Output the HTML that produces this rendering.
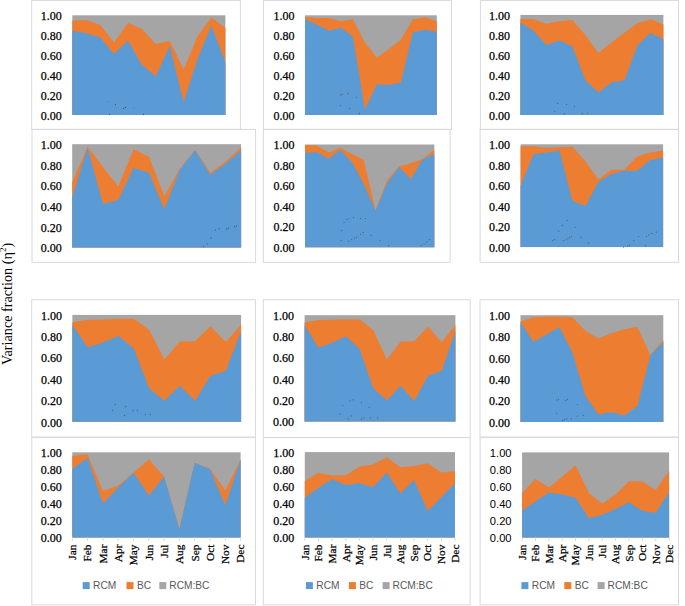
<!DOCTYPE html>
<html><head><meta charset="utf-8"><style>
html,body{margin:0;padding:0;background:#fff;width:685px;height:606px;overflow:hidden;}
svg{display:block;}
.ys{font-family:'Liberation Serif', serif;font-size:12px;fill:#000;stroke:#000;stroke-width:0.25px;}
.yss{font-family:'Liberation Sans', sans-serif;font-size:11.2px;fill:#000;}
.ms{font-family:'Liberation Serif', serif;font-size:11.3px;fill:#000;stroke:#000;stroke-width:0.25px;}
.lg{font-family:'Liberation Sans', sans-serif;font-size:10.2px;fill:#595959;}
.tt{font-family:'Liberation Serif', serif;font-size:14.2px;fill:#000;}
</style></head><body>
<svg width="685" height="606" viewBox="0 0 685 606">
<rect x="0" y="0" width="685" height="606" fill="#fff"/>
<rect x="31.7" y="0.4" width="208.7" height="129" fill="none" stroke="#D9D9D9" stroke-width="1"/>
<rect x="72.3" y="15.3" width="153.1" height="99.6" fill="#A5A5A5"/>
<polygon points="72.3,114.9 72.3,20.38 86.22,20.08 100.14,24.76 114.05,42.59 127.97,22.97 141.89,28.65 155.81,43.98 169.73,40.7 183.65,69.48 197.56,36.22 211.48,17.49 225.4,28.05 225.4,114.9" fill="#ED7D31"/>
<polygon points="72.3,114.9 72.3,30.84 86.22,33.13 100.14,37.51 114.05,54.04 127.97,40.4 141.89,64.8 155.81,76.16 169.73,45.88 183.65,102.15 197.56,58.63 211.48,25.86 225.4,62.51 225.4,114.9" fill="#5B9BD5"/>
<text class="ys" x="61.8" y="119.6" text-anchor="end">0.00</text>
<text class="ys" x="61.8" y="99.68" text-anchor="end">0.20</text>
<text class="ys" x="61.8" y="79.76" text-anchor="end">0.40</text>
<text class="ys" x="61.8" y="59.84" text-anchor="end">0.60</text>
<text class="ys" x="61.8" y="39.92" text-anchor="end">0.80</text>
<text class="ys" x="61.8" y="20" text-anchor="end">1.00</text>
<rect x="263.5" y="0.4" width="188" height="129" fill="none" stroke="#D9D9D9" stroke-width="1"/>
<rect x="305" y="15.3" width="131.8" height="99.6" fill="#A5A5A5"/>
<polygon points="305,114.9 305,16.89 316.98,17.89 328.96,17.89 340.95,21.18 352.93,19.28 364.91,42.59 376.89,57.43 388.87,48.96 400.85,39.7 412.84,19.28 424.82,17.29 436.8,21.28 436.8,114.9" fill="#ED7D31"/>
<polygon points="305,114.9 305,18.89 316.98,24.76 328.96,30.74 340.95,27.85 352.93,36.71 364.91,109.62 376.89,84.22 388.87,84.82 400.85,82.83 412.84,32.33 424.82,29.74 436.8,31.73 436.8,114.9" fill="#5B9BD5"/>
<text class="ys" x="294.5" y="119.6" text-anchor="end">0.00</text>
<text class="ys" x="294.5" y="99.68" text-anchor="end">0.20</text>
<text class="ys" x="294.5" y="79.76" text-anchor="end">0.40</text>
<text class="ys" x="294.5" y="59.84" text-anchor="end">0.60</text>
<text class="ys" x="294.5" y="39.92" text-anchor="end">0.80</text>
<text class="ys" x="294.5" y="20" text-anchor="end">1.00</text>
<rect x="480.4" y="0.4" width="198.1" height="129" fill="none" stroke="#D9D9D9" stroke-width="1"/>
<rect x="520.4" y="14.9" width="143" height="100" fill="#A5A5A5"/>
<polygon points="520.4,114.9 520.4,18.9 533.4,18.9 546.4,23.8 559.4,21.2 572.4,19.9 585.4,34.9 598.4,52.9 611.4,42.6 624.4,32.7 637.4,23.2 650.4,19.3 663.4,24.4 663.4,114.9" fill="#ED7D31"/>
<polygon points="520.4,114.9 520.4,22.4 533.4,30.7 546.4,45 559.4,40.6 572.4,46.6 585.4,80.2 598.4,92.5 611.4,82.6 624.4,80.2 637.4,45.6 650.4,33.1 663.4,39.1 663.4,114.9" fill="#5B9BD5"/>
<text class="ys" x="509.9" y="119.6" text-anchor="end">0.00</text>
<text class="ys" x="509.9" y="99.6" text-anchor="end">0.20</text>
<text class="ys" x="509.9" y="79.6" text-anchor="end">0.40</text>
<text class="ys" x="509.9" y="59.6" text-anchor="end">0.60</text>
<text class="ys" x="509.9" y="39.6" text-anchor="end">0.80</text>
<text class="ys" x="509.9" y="19.6" text-anchor="end">1.00</text>
<rect x="32" y="129.4" width="223.6" height="132.9" fill="none" stroke="#D9D9D9" stroke-width="1"/>
<rect x="72.2" y="144.2" width="168.9" height="103.3" fill="#A5A5A5"/>
<polygon points="72.2,247.5 72.2,182.21 87.55,146.78 102.91,166.93 118.26,186.55 133.62,149.26 148.97,156.8 164.33,196.37 179.68,168.99 195.04,149.67 210.39,172.81 225.75,161.55 241.1,147.4 241.1,247.5" fill="#ED7D31"/>
<polygon points="72.2,247.5 72.2,197.81 87.55,147.4 102.91,203.8 118.26,200.09 133.62,167.75 148.97,172.81 164.33,209.07 179.68,170.02 195.04,150.19 210.39,174.67 225.75,163.41 241.1,150.19 241.1,247.5" fill="#5B9BD5"/>
<text class="ys" x="61.7" y="252.2" text-anchor="end">0.00</text>
<text class="ys" x="61.7" y="231.54" text-anchor="end">0.20</text>
<text class="ys" x="61.7" y="210.88" text-anchor="end">0.40</text>
<text class="ys" x="61.7" y="190.22" text-anchor="end">0.60</text>
<text class="ys" x="61.7" y="169.56" text-anchor="end">0.80</text>
<text class="ys" x="61.7" y="148.9" text-anchor="end">1.00</text>
<rect x="263.3" y="129.4" width="186.8" height="132.9" fill="none" stroke="#D9D9D9" stroke-width="1"/>
<rect x="305" y="144.5" width="129.3" height="102.7" fill="#A5A5A5"/>
<polygon points="305,247.2 305,145.12 316.75,145.42 328.51,152.61 340.26,147.68 352.02,153.95 363.77,160.11 375.53,210.13 387.28,180.34 399.04,166.58 410.79,163.29 422.55,158.88 434.3,149.63 434.3,247.2" fill="#ED7D31"/>
<polygon points="305,247.2 305,153.02 316.75,152 328.51,158.67 340.26,149.63 352.02,162.37 363.77,184.04 375.53,210.43 387.28,183.12 399.04,167.09 410.79,179.01 422.55,159.6 434.3,153.95 434.3,247.2" fill="#5B9BD5"/>
<text class="ys" x="294.5" y="251.9" text-anchor="end">0.00</text>
<text class="ys" x="294.5" y="231.36" text-anchor="end">0.20</text>
<text class="ys" x="294.5" y="210.82" text-anchor="end">0.40</text>
<text class="ys" x="294.5" y="190.28" text-anchor="end">0.60</text>
<text class="ys" x="294.5" y="169.74" text-anchor="end">0.80</text>
<text class="ys" x="294.5" y="149.2" text-anchor="end">1.00</text>
<rect x="480.1" y="129.4" width="198.4" height="132.9" fill="none" stroke="#D9D9D9" stroke-width="1"/>
<rect x="520.6" y="144.3" width="142.5" height="102.8" fill="#A5A5A5"/>
<polygon points="520.6,247.1 520.6,146.15 533.55,146.15 546.51,148.1 559.46,147.18 572.42,146.77 585.37,161.26 598.33,179.56 611.28,169.79 624.24,169.79 637.19,156.53 650.15,152.42 663.1,150.57 663.1,247.1" fill="#ED7D31"/>
<polygon points="520.6,247.1 520.6,185.83 533.55,154.27 546.51,152.42 559.46,150.57 572.42,200.84 585.37,205.98 598.33,182.03 611.28,173.91 624.24,170.72 637.19,170.72 650.15,159.93 663.1,157.46 663.1,247.1" fill="#5B9BD5"/>
<text class="ys" x="510.1" y="251.8" text-anchor="end">0.00</text>
<text class="ys" x="510.1" y="231.24" text-anchor="end">0.20</text>
<text class="ys" x="510.1" y="210.68" text-anchor="end">0.40</text>
<text class="ys" x="510.1" y="190.12" text-anchor="end">0.60</text>
<text class="ys" x="510.1" y="169.56" text-anchor="end">0.80</text>
<text class="ys" x="510.1" y="149" text-anchor="end">1.00</text>
<rect x="31.7" y="299.8" width="223.7" height="137.2" fill="none" stroke="#D9D9D9" stroke-width="1"/>
<rect x="72.4" y="314.9" width="168.7" height="106.9" fill="#A5A5A5"/>
<polygon points="72.4,421.8 72.4,322.28 87.74,319.82 103.07,319.5 118.41,318.86 133.75,318.86 149.08,329.76 164.42,359.48 179.75,341.62 195.09,341.2 210.43,326.23 225.76,342.05 241.1,324.84 241.1,421.8" fill="#ED7D31"/>
<polygon points="72.4,421.8 72.4,324.84 87.74,347.61 103.07,342.59 118.41,336.07 133.75,348.57 149.08,388.13 164.42,400.63 179.75,385.77 195.09,401.06 210.43,375.73 225.76,370.92 241.1,330.72 241.1,421.8" fill="#5B9BD5"/>
<text class="ys" x="61.9" y="426.5" text-anchor="end">0.00</text>
<text class="ys" x="61.9" y="405.12" text-anchor="end">0.20</text>
<text class="ys" x="61.9" y="383.74" text-anchor="end">0.40</text>
<text class="ys" x="61.9" y="362.36" text-anchor="end">0.60</text>
<text class="ys" x="61.9" y="340.98" text-anchor="end">0.80</text>
<text class="ys" x="61.9" y="319.6" text-anchor="end">1.00</text>
<rect x="263.3" y="299.8" width="206.9" height="137.7" fill="none" stroke="#D9D9D9" stroke-width="1"/>
<rect x="304.6" y="315.2" width="150.8" height="106.3" fill="#A5A5A5"/>
<polygon points="304.6,421.5 304.6,322.53 318.31,320.09 332.02,319.77 345.73,319.13 359.44,319.13 373.15,329.98 386.85,359.53 400.56,341.77 414.27,341.35 427.98,326.47 441.69,342.2 455.4,325.09 455.4,421.5" fill="#ED7D31"/>
<polygon points="304.6,421.5 304.6,325.09 318.31,347.73 332.02,342.73 345.73,336.25 359.44,348.68 373.15,388.02 386.85,400.45 400.56,385.68 414.27,400.88 427.98,375.68 441.69,370.9 455.4,330.93 455.4,421.5" fill="#5B9BD5"/>
<text class="ys" x="294.1" y="426.2" text-anchor="end">0.00</text>
<text class="ys" x="294.1" y="404.94" text-anchor="end">0.20</text>
<text class="ys" x="294.1" y="383.68" text-anchor="end">0.40</text>
<text class="ys" x="294.1" y="362.42" text-anchor="end">0.60</text>
<text class="ys" x="294.1" y="341.16" text-anchor="end">0.80</text>
<text class="ys" x="294.1" y="319.9" text-anchor="end">1.00</text>
<rect x="480" y="299.8" width="198.6" height="137.2" fill="none" stroke="#D9D9D9" stroke-width="1"/>
<rect x="520.5" y="315.2" width="142.8" height="106.7" fill="#A5A5A5"/>
<polygon points="520.5,421.9 520.5,321.39 533.48,317.33 546.46,316.8 559.45,316.8 572.43,317.33 585.41,330.67 598.39,338.57 611.37,333.23 624.35,329.28 637.34,326.72 650.32,355.11 663.3,339.95 663.3,421.9" fill="#ED7D31"/>
<polygon points="520.5,421.9 520.5,322.14 533.48,341.98 546.46,334.62 559.45,327.15 572.43,352.44 585.41,396.08 598.39,414.54 611.37,411.98 624.35,415.6 637.34,406 650.32,355.43 663.3,341.98 663.3,421.9" fill="#5B9BD5"/>
<text class="ys" x="510" y="426.6" text-anchor="end">0.00</text>
<text class="ys" x="510" y="405.26" text-anchor="end">0.20</text>
<text class="ys" x="510" y="383.92" text-anchor="end">0.40</text>
<text class="ys" x="510" y="362.58" text-anchor="end">0.60</text>
<text class="ys" x="510" y="341.24" text-anchor="end">0.80</text>
<text class="ys" x="510" y="319.9" text-anchor="end">1.00</text>
<rect x="31.8" y="437.6" width="223.7" height="167.2" fill="none" stroke="#D9D9D9" stroke-width="1"/>
<rect x="72.3" y="452.3" width="168.3" height="85.1" fill="#A5A5A5"/>
<polygon points="72.3,537.4 72.3,455.87 87.6,454.26 102.9,491.02 118.2,485.49 133.5,472.72 148.8,459.19 164.1,476.64 179.4,528.46 194.7,462.77 210,468.72 225.3,490.51 240.6,459.45 240.6,537.4" fill="#ED7D31"/>
<polygon points="72.3,537.4 72.3,469.06 87.6,457.83 102.9,503.62 118.2,487.45 133.5,472.72 148.8,495.45 164.1,476.64 179.4,529.49 194.7,462.77 210,469.32 225.3,505.32 240.6,459.79 240.6,537.4" fill="#5B9BD5"/>
<text class="ys" x="61.8" y="542.1" text-anchor="end">0.00</text>
<text class="ys" x="61.8" y="525.08" text-anchor="end">0.20</text>
<text class="ys" x="61.8" y="508.06" text-anchor="end">0.40</text>
<text class="ys" x="61.8" y="491.04" text-anchor="end">0.60</text>
<text class="ys" x="61.8" y="474.02" text-anchor="end">0.80</text>
<text class="ys" x="61.8" y="457" text-anchor="end">1.00</text>
<line x1="72.3" y1="537.4" x2="72.3" y2="540.9" stroke="#D9D9D9" stroke-width="1"/>
<line x1="87.6" y1="537.4" x2="87.6" y2="540.9" stroke="#D9D9D9" stroke-width="1"/>
<line x1="102.9" y1="537.4" x2="102.9" y2="540.9" stroke="#D9D9D9" stroke-width="1"/>
<line x1="118.2" y1="537.4" x2="118.2" y2="540.9" stroke="#D9D9D9" stroke-width="1"/>
<line x1="133.5" y1="537.4" x2="133.5" y2="540.9" stroke="#D9D9D9" stroke-width="1"/>
<line x1="148.8" y1="537.4" x2="148.8" y2="540.9" stroke="#D9D9D9" stroke-width="1"/>
<line x1="164.1" y1="537.4" x2="164.1" y2="540.9" stroke="#D9D9D9" stroke-width="1"/>
<line x1="179.4" y1="537.4" x2="179.4" y2="540.9" stroke="#D9D9D9" stroke-width="1"/>
<line x1="194.7" y1="537.4" x2="194.7" y2="540.9" stroke="#D9D9D9" stroke-width="1"/>
<line x1="210" y1="537.4" x2="210" y2="540.9" stroke="#D9D9D9" stroke-width="1"/>
<line x1="225.3" y1="537.4" x2="225.3" y2="540.9" stroke="#D9D9D9" stroke-width="1"/>
<line x1="240.6" y1="537.4" x2="240.6" y2="540.9" stroke="#D9D9D9" stroke-width="1"/>
<text class="ms" transform="translate(76.1,544.6) rotate(-90)" x="0" y="0" text-anchor="end">Jan</text>
<text class="ms" transform="translate(91.4,544.6) rotate(-90)" x="0" y="0" text-anchor="end">Feb</text>
<text class="ms" transform="translate(106.7,544.6) rotate(-90)" x="0" y="0" text-anchor="end">Mar</text>
<text class="ms" transform="translate(122,544.6) rotate(-90)" x="0" y="0" text-anchor="end">Apr</text>
<text class="ms" transform="translate(137.3,544.6) rotate(-90)" x="0" y="0" text-anchor="end">May</text>
<text class="ms" transform="translate(152.6,544.6) rotate(-90)" x="0" y="0" text-anchor="end">Jun</text>
<text class="ms" transform="translate(167.9,544.6) rotate(-90)" x="0" y="0" text-anchor="end">Jul</text>
<text class="ms" transform="translate(183.2,544.6) rotate(-90)" x="0" y="0" text-anchor="end">Aug</text>
<text class="ms" transform="translate(198.5,544.6) rotate(-90)" x="0" y="0" text-anchor="end">Sep</text>
<text class="ms" transform="translate(213.8,544.6) rotate(-90)" x="0" y="0" text-anchor="end">Oct</text>
<text class="ms" transform="translate(229.1,544.6) rotate(-90)" x="0" y="0" text-anchor="end">Nov</text>
<text class="ms" transform="translate(244.4,544.6) rotate(-90)" x="0" y="0" text-anchor="end">Dec</text>
<rect x="82.7" y="582.1" width="7" height="7" fill="#5B9BD5"/>
<text class="lg" x="93.1" y="589.2">RCM</text>
<rect x="126.5" y="582.1" width="7" height="7" fill="#ED7D31"/>
<text class="lg" x="136.9" y="589.2">BC</text>
<rect x="159.3" y="582.1" width="7" height="7" fill="#A5A5A5"/>
<text class="lg" x="169.3" y="589.2">RCM:BC</text>
<rect x="263.3" y="437.6" width="206.8" height="167.3" fill="none" stroke="#D9D9D9" stroke-width="1"/>
<rect x="304.8" y="452.1" width="150.2" height="85.3" fill="#A5A5A5"/>
<polygon points="304.8,537.4 304.8,481.1 318.45,472.83 332.11,475.39 345.76,475.22 359.42,466.52 373.07,464.38 386.73,457.22 400.38,467.2 414.04,466 427.69,463.19 441.35,472.57 455,471.12 455,537.4" fill="#ED7D31"/>
<polygon points="304.8,537.4 304.8,497.48 318.45,487.67 332.11,479.31 345.76,485.11 359.42,483.32 373.07,487.24 386.73,472.57 400.38,493.39 414.04,480.08 427.69,510.79 441.35,497.31 455,483.06 455,537.4" fill="#5B9BD5"/>
<text class="ys" x="294.3" y="542.1" text-anchor="end">0.00</text>
<text class="ys" x="294.3" y="525.04" text-anchor="end">0.20</text>
<text class="ys" x="294.3" y="507.98" text-anchor="end">0.40</text>
<text class="ys" x="294.3" y="490.92" text-anchor="end">0.60</text>
<text class="ys" x="294.3" y="473.86" text-anchor="end">0.80</text>
<text class="ys" x="294.3" y="456.8" text-anchor="end">1.00</text>
<line x1="304.8" y1="537.4" x2="304.8" y2="540.9" stroke="#D9D9D9" stroke-width="1"/>
<line x1="318.45" y1="537.4" x2="318.45" y2="540.9" stroke="#D9D9D9" stroke-width="1"/>
<line x1="332.11" y1="537.4" x2="332.11" y2="540.9" stroke="#D9D9D9" stroke-width="1"/>
<line x1="345.76" y1="537.4" x2="345.76" y2="540.9" stroke="#D9D9D9" stroke-width="1"/>
<line x1="359.42" y1="537.4" x2="359.42" y2="540.9" stroke="#D9D9D9" stroke-width="1"/>
<line x1="373.07" y1="537.4" x2="373.07" y2="540.9" stroke="#D9D9D9" stroke-width="1"/>
<line x1="386.73" y1="537.4" x2="386.73" y2="540.9" stroke="#D9D9D9" stroke-width="1"/>
<line x1="400.38" y1="537.4" x2="400.38" y2="540.9" stroke="#D9D9D9" stroke-width="1"/>
<line x1="414.04" y1="537.4" x2="414.04" y2="540.9" stroke="#D9D9D9" stroke-width="1"/>
<line x1="427.69" y1="537.4" x2="427.69" y2="540.9" stroke="#D9D9D9" stroke-width="1"/>
<line x1="441.35" y1="537.4" x2="441.35" y2="540.9" stroke="#D9D9D9" stroke-width="1"/>
<line x1="455" y1="537.4" x2="455" y2="540.9" stroke="#D9D9D9" stroke-width="1"/>
<text class="ms" transform="translate(308.6,544.6) rotate(-90)" x="0" y="0" text-anchor="end">Jan</text>
<text class="ms" transform="translate(322.25,544.6) rotate(-90)" x="0" y="0" text-anchor="end">Feb</text>
<text class="ms" transform="translate(335.91,544.6) rotate(-90)" x="0" y="0" text-anchor="end">Mar</text>
<text class="ms" transform="translate(349.56,544.6) rotate(-90)" x="0" y="0" text-anchor="end">Apr</text>
<text class="ms" transform="translate(363.22,544.6) rotate(-90)" x="0" y="0" text-anchor="end">May</text>
<text class="ms" transform="translate(376.87,544.6) rotate(-90)" x="0" y="0" text-anchor="end">Jun</text>
<text class="ms" transform="translate(390.53,544.6) rotate(-90)" x="0" y="0" text-anchor="end">Jul</text>
<text class="ms" transform="translate(404.18,544.6) rotate(-90)" x="0" y="0" text-anchor="end">Aug</text>
<text class="ms" transform="translate(417.84,544.6) rotate(-90)" x="0" y="0" text-anchor="end">Sep</text>
<text class="ms" transform="translate(431.49,544.6) rotate(-90)" x="0" y="0" text-anchor="end">Oct</text>
<text class="ms" transform="translate(445.15,544.6) rotate(-90)" x="0" y="0" text-anchor="end">Nov</text>
<text class="ms" transform="translate(458.8,544.6) rotate(-90)" x="0" y="0" text-anchor="end">Dec</text>
<rect x="305.9" y="582.1" width="7" height="7" fill="#5B9BD5"/>
<text class="lg" x="316.3" y="589.2">RCM</text>
<rect x="348.9" y="582.1" width="7" height="7" fill="#ED7D31"/>
<text class="lg" x="359.3" y="589.2">BC</text>
<rect x="382.6" y="582.1" width="7" height="7" fill="#A5A5A5"/>
<text class="lg" x="392.6" y="589.2">RCM:BC</text>
<rect x="480.1" y="437.6" width="198.4" height="167.2" fill="none" stroke="#D9D9D9" stroke-width="1"/>
<rect x="522.1" y="452.4" width="147" height="85.1" fill="#A5A5A5"/>
<polygon points="522.1,537.5 522.1,493.08 535.46,478.7 548.83,487.55 562.19,476.65 575.55,465.16 588.92,493.08 602.28,503.72 615.65,494.44 629.01,481.25 642.37,481.59 655.74,489.93 669.1,470.78 669.1,537.5" fill="#ED7D31"/>
<polygon points="522.1,537.5 522.1,510.86 535.46,501.33 548.83,492.48 562.19,494.44 575.55,497.84 588.92,518.18 602.28,514.78 615.65,508.91 629.01,502.35 642.37,510.86 655.74,512.82 669.1,491.89 669.1,537.5" fill="#5B9BD5"/>
<text class="yss" x="511.6" y="542.2" text-anchor="end">0.00</text>
<text class="yss" x="511.6" y="525.18" text-anchor="end">0.20</text>
<text class="yss" x="511.6" y="508.16" text-anchor="end">0.40</text>
<text class="yss" x="511.6" y="491.14" text-anchor="end">0.60</text>
<text class="yss" x="511.6" y="474.12" text-anchor="end">0.80</text>
<text class="yss" x="511.6" y="457.1" text-anchor="end">1.00</text>
<line x1="522.1" y1="537.5" x2="522.1" y2="541" stroke="#D9D9D9" stroke-width="1"/>
<line x1="535.46" y1="537.5" x2="535.46" y2="541" stroke="#D9D9D9" stroke-width="1"/>
<line x1="548.83" y1="537.5" x2="548.83" y2="541" stroke="#D9D9D9" stroke-width="1"/>
<line x1="562.19" y1="537.5" x2="562.19" y2="541" stroke="#D9D9D9" stroke-width="1"/>
<line x1="575.55" y1="537.5" x2="575.55" y2="541" stroke="#D9D9D9" stroke-width="1"/>
<line x1="588.92" y1="537.5" x2="588.92" y2="541" stroke="#D9D9D9" stroke-width="1"/>
<line x1="602.28" y1="537.5" x2="602.28" y2="541" stroke="#D9D9D9" stroke-width="1"/>
<line x1="615.65" y1="537.5" x2="615.65" y2="541" stroke="#D9D9D9" stroke-width="1"/>
<line x1="629.01" y1="537.5" x2="629.01" y2="541" stroke="#D9D9D9" stroke-width="1"/>
<line x1="642.37" y1="537.5" x2="642.37" y2="541" stroke="#D9D9D9" stroke-width="1"/>
<line x1="655.74" y1="537.5" x2="655.74" y2="541" stroke="#D9D9D9" stroke-width="1"/>
<line x1="669.1" y1="537.5" x2="669.1" y2="541" stroke="#D9D9D9" stroke-width="1"/>
<text class="ms" transform="translate(525.9,544.7) rotate(-90)" x="0" y="0" text-anchor="end">Jan</text>
<text class="ms" transform="translate(539.26,544.7) rotate(-90)" x="0" y="0" text-anchor="end">Feb</text>
<text class="ms" transform="translate(552.63,544.7) rotate(-90)" x="0" y="0" text-anchor="end">Mar</text>
<text class="ms" transform="translate(565.99,544.7) rotate(-90)" x="0" y="0" text-anchor="end">Apr</text>
<text class="ms" transform="translate(579.35,544.7) rotate(-90)" x="0" y="0" text-anchor="end">May</text>
<text class="ms" transform="translate(592.72,544.7) rotate(-90)" x="0" y="0" text-anchor="end">Jun</text>
<text class="ms" transform="translate(606.08,544.7) rotate(-90)" x="0" y="0" text-anchor="end">Jul</text>
<text class="ms" transform="translate(619.45,544.7) rotate(-90)" x="0" y="0" text-anchor="end">Aug</text>
<text class="ms" transform="translate(632.81,544.7) rotate(-90)" x="0" y="0" text-anchor="end">Sep</text>
<text class="ms" transform="translate(646.17,544.7) rotate(-90)" x="0" y="0" text-anchor="end">Oct</text>
<text class="ms" transform="translate(659.54,544.7) rotate(-90)" x="0" y="0" text-anchor="end">Nov</text>
<text class="ms" transform="translate(672.9,544.7) rotate(-90)" x="0" y="0" text-anchor="end">Dec</text>
<rect x="521.4" y="582.1" width="7" height="7" fill="#5B9BD5"/>
<text class="lg" x="531.8" y="589.2">RCM</text>
<rect x="564.3" y="582.1" width="7" height="7" fill="#ED7D31"/>
<text class="lg" x="574.7" y="589.2">BC</text>
<rect x="597.6" y="582.1" width="7" height="7" fill="#A5A5A5"/>
<text class="lg" x="607.6" y="589.2">RCM:BC</text>
<circle cx="108.5" cy="101.7" r="0.65" fill="#3f3f3f" fill-opacity="0.3"/>
<circle cx="115.4" cy="104.6" r="0.65" fill="#3f3f3f" fill-opacity="0.75"/>
<circle cx="123.5" cy="108.4" r="0.65" fill="#3f3f3f" fill-opacity="0.75"/>
<circle cx="125.5" cy="107.4" r="0.65" fill="#3f3f3f" fill-opacity="0.75"/>
<circle cx="134" cy="108.4" r="0.65" fill="#3f3f3f" fill-opacity="0.3"/>
<circle cx="109.6" cy="114.5" r="0.65" fill="#3f3f3f" fill-opacity="0.75"/>
<circle cx="143.5" cy="114.5" r="0.65" fill="#3f3f3f" fill-opacity="0.75"/>
<circle cx="340.5" cy="95.1" r="0.65" fill="#3f3f3f" fill-opacity="0.6"/>
<circle cx="342.1" cy="94.5" r="0.65" fill="#3f3f3f" fill-opacity="0.6"/>
<circle cx="348.1" cy="93.5" r="0.65" fill="#3f3f3f" fill-opacity="0.6"/>
<circle cx="356.4" cy="97.3" r="0.65" fill="#3f3f3f" fill-opacity="0.6"/>
<circle cx="340.5" cy="105.6" r="0.65" fill="#3f3f3f" fill-opacity="0.6"/>
<circle cx="349.5" cy="108.4" r="0.65" fill="#3f3f3f" fill-opacity="0.6"/>
<circle cx="359.4" cy="113.5" r="0.65" fill="#3f3f3f" fill-opacity="0.6"/>
<circle cx="557.6" cy="103.4" r="0.65" fill="#3f3f3f" fill-opacity="0.6"/>
<circle cx="566.5" cy="104.4" r="0.65" fill="#3f3f3f" fill-opacity="0.6"/>
<circle cx="574.4" cy="106.4" r="0.65" fill="#3f3f3f" fill-opacity="0.6"/>
<circle cx="554.6" cy="111.3" r="0.65" fill="#3f3f3f" fill-opacity="0.6"/>
<circle cx="564.5" cy="113.9" r="0.65" fill="#3f3f3f" fill-opacity="0.6"/>
<circle cx="582.3" cy="113.3" r="0.65" fill="#3f3f3f" fill-opacity="0.6"/>
<circle cx="587.7" cy="113.3" r="0.65" fill="#3f3f3f" fill-opacity="0.6"/>
<circle cx="215.4" cy="230.1" r="0.65" fill="#3f3f3f" fill-opacity="0.75"/>
<circle cx="219.2" cy="228.6" r="0.65" fill="#3f3f3f" fill-opacity="0.75"/>
<circle cx="226.7" cy="229" r="0.65" fill="#3f3f3f" fill-opacity="0.75"/>
<circle cx="228.6" cy="228.2" r="0.65" fill="#3f3f3f" fill-opacity="0.75"/>
<circle cx="234.6" cy="226.7" r="0.65" fill="#3f3f3f" fill-opacity="0.75"/>
<circle cx="236.5" cy="226" r="0.65" fill="#3f3f3f" fill-opacity="0.75"/>
<circle cx="211.1" cy="238.2" r="0.65" fill="#3f3f3f" fill-opacity="0.75"/>
<circle cx="207.3" cy="243.8" r="0.65" fill="#3f3f3f" fill-opacity="0.75"/>
<circle cx="203.6" cy="246.6" r="0.65" fill="#3f3f3f" fill-opacity="0.75"/>
<circle cx="344.1" cy="222.3" r="0.65" fill="#3f3f3f" fill-opacity="0.6"/>
<circle cx="346.6" cy="219.3" r="0.65" fill="#3f3f3f" fill-opacity="0.6"/>
<circle cx="348.8" cy="218.6" r="0.65" fill="#3f3f3f" fill-opacity="0.6"/>
<circle cx="353.5" cy="217.6" r="0.65" fill="#3f3f3f" fill-opacity="0.6"/>
<circle cx="360.5" cy="218.6" r="0.65" fill="#3f3f3f" fill-opacity="0.6"/>
<circle cx="365.4" cy="218.6" r="0.65" fill="#3f3f3f" fill-opacity="0.6"/>
<circle cx="341.7" cy="230.6" r="0.65" fill="#3f3f3f" fill-opacity="0.6"/>
<circle cx="340.9" cy="240.6" r="0.65" fill="#3f3f3f" fill-opacity="0.6"/>
<circle cx="348.4" cy="241.2" r="0.65" fill="#3f3f3f" fill-opacity="0.6"/>
<circle cx="351.6" cy="239.6" r="0.65" fill="#3f3f3f" fill-opacity="0.6"/>
<circle cx="354.5" cy="238.1" r="0.65" fill="#3f3f3f" fill-opacity="0.6"/>
<circle cx="356.7" cy="237.2" r="0.65" fill="#3f3f3f" fill-opacity="0.6"/>
<circle cx="360.7" cy="234.4" r="0.65" fill="#3f3f3f" fill-opacity="0.6"/>
<circle cx="363.3" cy="232.5" r="0.65" fill="#3f3f3f" fill-opacity="0.6"/>
<circle cx="371" cy="235.5" r="0.65" fill="#3f3f3f" fill-opacity="0.6"/>
<circle cx="379.8" cy="240.6" r="0.65" fill="#3f3f3f" fill-opacity="0.6"/>
<circle cx="388.6" cy="245.7" r="0.65" fill="#3f3f3f" fill-opacity="0.6"/>
<circle cx="421.2" cy="245.3" r="0.65" fill="#3f3f3f" fill-opacity="0.6"/>
<circle cx="424" cy="243.8" r="0.65" fill="#3f3f3f" fill-opacity="0.6"/>
<circle cx="426.8" cy="241.9" r="0.65" fill="#3f3f3f" fill-opacity="0.6"/>
<circle cx="429.6" cy="239.6" r="0.65" fill="#3f3f3f" fill-opacity="0.6"/>
<circle cx="567.3" cy="220.4" r="0.65" fill="#3f3f3f" fill-opacity="0.6"/>
<circle cx="562.4" cy="225.5" r="0.65" fill="#3f3f3f" fill-opacity="0.6"/>
<circle cx="558.7" cy="231.2" r="0.65" fill="#3f3f3f" fill-opacity="0.6"/>
<circle cx="575.2" cy="227.4" r="0.65" fill="#3f3f3f" fill-opacity="0.6"/>
<circle cx="580.9" cy="237.4" r="0.65" fill="#3f3f3f" fill-opacity="0.6"/>
<circle cx="588.4" cy="243" r="0.65" fill="#3f3f3f" fill-opacity="0.6"/>
<circle cx="552.6" cy="240.6" r="0.65" fill="#3f3f3f" fill-opacity="0.6"/>
<circle cx="554.5" cy="239.6" r="0.65" fill="#3f3f3f" fill-opacity="0.6"/>
<circle cx="563.6" cy="240.6" r="0.65" fill="#3f3f3f" fill-opacity="0.6"/>
<circle cx="565.8" cy="239.6" r="0.65" fill="#3f3f3f" fill-opacity="0.6"/>
<circle cx="567.7" cy="238.7" r="0.65" fill="#3f3f3f" fill-opacity="0.6"/>
<circle cx="569.6" cy="237.4" r="0.65" fill="#3f3f3f" fill-opacity="0.6"/>
<circle cx="571.5" cy="236.3" r="0.65" fill="#3f3f3f" fill-opacity="0.6"/>
<circle cx="623.5" cy="247.2" r="0.65" fill="#3f3f3f" fill-opacity="0.6"/>
<circle cx="627.6" cy="246.2" r="0.65" fill="#3f3f3f" fill-opacity="0.6"/>
<circle cx="629.5" cy="245.3" r="0.65" fill="#3f3f3f" fill-opacity="0.6"/>
<circle cx="633.7" cy="240.6" r="0.65" fill="#3f3f3f" fill-opacity="0.6"/>
<circle cx="638.6" cy="236.3" r="0.65" fill="#3f3f3f" fill-opacity="0.6"/>
<circle cx="646.5" cy="236.3" r="0.65" fill="#3f3f3f" fill-opacity="0.6"/>
<circle cx="648.7" cy="234.9" r="0.65" fill="#3f3f3f" fill-opacity="0.6"/>
<circle cx="651.7" cy="233.4" r="0.65" fill="#3f3f3f" fill-opacity="0.6"/>
<circle cx="656.3" cy="232.1" r="0.65" fill="#3f3f3f" fill-opacity="0.6"/>
<circle cx="645.5" cy="245.7" r="0.65" fill="#3f3f3f" fill-opacity="0.6"/>
<circle cx="115.2" cy="404.5" r="0.65" fill="#3f3f3f" fill-opacity="0.6"/>
<circle cx="125.5" cy="406.5" r="0.65" fill="#3f3f3f" fill-opacity="0.6"/>
<circle cx="112.6" cy="410.5" r="0.65" fill="#3f3f3f" fill-opacity="0.6"/>
<circle cx="133" cy="410.5" r="0.65" fill="#3f3f3f" fill-opacity="0.6"/>
<circle cx="137.4" cy="410.5" r="0.65" fill="#3f3f3f" fill-opacity="0.6"/>
<circle cx="124.5" cy="415.5" r="0.65" fill="#3f3f3f" fill-opacity="0.6"/>
<circle cx="145.3" cy="414.5" r="0.65" fill="#3f3f3f" fill-opacity="0.6"/>
<circle cx="150.3" cy="414.5" r="0.65" fill="#3f3f3f" fill-opacity="0.6"/>
<circle cx="350" cy="400.8" r="0.65" fill="#3f3f3f" fill-opacity="0.6"/>
<circle cx="353.2" cy="399.8" r="0.65" fill="#3f3f3f" fill-opacity="0.6"/>
<circle cx="342.9" cy="405.6" r="0.65" fill="#3f3f3f" fill-opacity="0.6"/>
<circle cx="361.5" cy="402.7" r="0.65" fill="#3f3f3f" fill-opacity="0.6"/>
<circle cx="369.2" cy="407.5" r="0.65" fill="#3f3f3f" fill-opacity="0.6"/>
<circle cx="340" cy="414.2" r="0.65" fill="#3f3f3f" fill-opacity="0.6"/>
<circle cx="351.2" cy="415.9" r="0.65" fill="#3f3f3f" fill-opacity="0.6"/>
<circle cx="348.1" cy="419" r="0.65" fill="#3f3f3f" fill-opacity="0.6"/>
<circle cx="361.5" cy="419" r="0.65" fill="#3f3f3f" fill-opacity="0.6"/>
<circle cx="363.9" cy="418" r="0.65" fill="#3f3f3f" fill-opacity="0.6"/>
<circle cx="370.4" cy="418" r="0.65" fill="#3f3f3f" fill-opacity="0.6"/>
<circle cx="377.6" cy="418" r="0.65" fill="#3f3f3f" fill-opacity="0.6"/>
<circle cx="556.6" cy="400.1" r="0.65" fill="#3f3f3f" fill-opacity="0.6"/>
<circle cx="558.6" cy="399.5" r="0.65" fill="#3f3f3f" fill-opacity="0.6"/>
<circle cx="565.5" cy="400.3" r="0.65" fill="#3f3f3f" fill-opacity="0.6"/>
<circle cx="567.5" cy="399.5" r="0.65" fill="#3f3f3f" fill-opacity="0.6"/>
<circle cx="577.4" cy="404.6" r="0.65" fill="#3f3f3f" fill-opacity="0.6"/>
<circle cx="556.6" cy="413.3" r="0.65" fill="#3f3f3f" fill-opacity="0.6"/>
<circle cx="562.5" cy="420.5" r="0.65" fill="#3f3f3f" fill-opacity="0.6"/>
<circle cx="564.5" cy="419.5" r="0.65" fill="#3f3f3f" fill-opacity="0.6"/>
<circle cx="566.9" cy="418.9" r="0.65" fill="#3f3f3f" fill-opacity="0.6"/>
<circle cx="571.4" cy="418.9" r="0.65" fill="#3f3f3f" fill-opacity="0.6"/>
<circle cx="577.4" cy="416.1" r="0.65" fill="#3f3f3f" fill-opacity="0.6"/>
<circle cx="583.3" cy="415.3" r="0.65" fill="#3f3f3f" fill-opacity="0.6"/>
<text class="tt" transform="translate(12.2,365.1) rotate(-90)" x="0" y="0">Variance fraction (&#951;<tspan font-size="9px" dy="-6">2</tspan><tspan dy="6">)</tspan></text>
</svg></body></html>
